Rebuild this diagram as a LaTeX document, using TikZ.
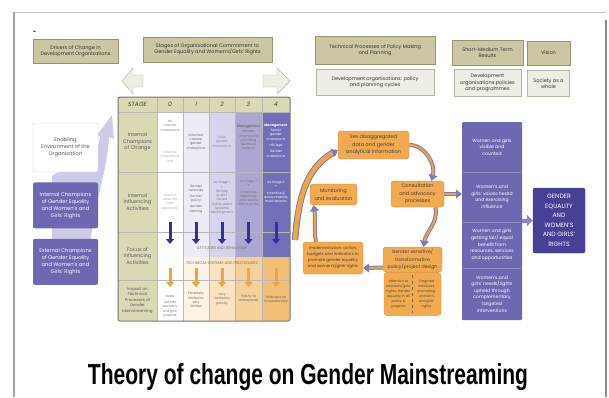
\documentclass[tikz,border=0pt]{standalone}
\usepackage{graphicx}
\usepackage{fontspec}
\setmainfont{Poppins}
\newfontfamily\titlefont{Liberation Sans}
\usetikzlibrary{arrows.meta,positioning}
\definecolor{khaki}{RGB}{203,199,163}
\definecolor{khakiedge}{RGB}{150,147,115}
\definecolor{paper}{RGB}{239,238,229}
\definecolor{stagecol}{RGB}{219,216,180}
\definecolor{lavA}{RGB}{236,236,247}
\definecolor{lavB}{RGB}{212,212,236}
\definecolor{lavC}{RGB}{170,168,211}
\definecolor{lavD}{RGB}{114,110,183}
\definecolor{purp}{RGB}{110,104,178}
\definecolor{darkpurp}{RGB}{72,64,148}
\definecolor{navy}{RGB}{52,50,150}
\definecolor{swoosh}{RGB}{204,204,232}
\definecolor{orA}{RGB}{253,242,228}
\definecolor{orB}{RGB}{250,227,194}
\definecolor{orC}{RGB}{246,208,154}
\definecolor{orD}{RGB}{243,190,118}
\definecolor{orbox}{RGB}{241,170,80}
\definecolor{oredge}{RGB}{214,140,52}
\definecolor{oarrow}{RGB}{239,166,64}
\tikzset{
  hdr/.style={rectangle, draw=khakiedge, fill=khaki, thin, align=center, font=\fontsize{5}{6.2}\selectfont, text=black!80, inner sep=1pt},
  hdrlight/.style={hdr, fill=paper, draw=khakiedge!70},
  leftbox/.style={rectangle, rounded corners=2pt, fill=purp, text=white, align=center, font=\fontsize{5.2}{7}\selectfont, minimum width=65pt, minimum height=46pt, inner sep=1pt},
  orbox/.style={rectangle, rounded corners=3pt, draw=oredge, fill=orbox, text=black!75, align=center, font=\fontsize{5}{7.5}\selectfont, inner sep=1pt},
  cell/.style={align=center, font=\fontsize{3.3}{4.3}\selectfont, text=black!60, inner sep=0pt},
  stagetxt/.style={align=center, font=\fontsize{5}{6.5}\selectfont, text=black!65, inner sep=0pt},
  outc/.style={align=center, text=white, font=\fontsize{4.6}{6.6}\selectfont, inner sep=0pt},
  gridline/.style={draw=black!28, thin},
  hollow/.style={draw=khakiedge!70, fill=paper, thin},
  tabarrow/.style={line width=3pt, -{Triangle[length=5pt,width=8pt]}},
  cyc/.style={draw=navy!65, double=oarrow, double distance=2pt, line width=1pt, -{Triangle[length=6pt,width=9pt,fill=navy!65]}}
}
\begin{document}
\begin{tikzpicture}[x=1pt,y=-1pt]
\useasboundingbox (0,0) rectangle (609,397);
\draw[black!22, line width=0.8pt] (14,12) -- (606,12);
\draw[black!35, line width=1.6pt] (14,12) -- (14,397);
\draw[black!45, line width=1.6pt] (606,20) -- (606,397);
\draw[red!75!black, line width=0.9pt] (33,31) -- (35.5,31.5);

% top row
\node[hdr, minimum width=85pt, minimum height=24pt] (drivers) at (75.5,51) {Drivers of Change in\\Development Organisations};
\node[hdr, minimum width=129pt, minimum height=25pt] (stages) at (207.5,49.5) {Stages of Organisational Commitment to\\Gender Equality and Women's/Girls' Rights};
\filldraw[hollow] (122,81) -- (133,68) -- (133,75) -- (143,75) -- (143,87) -- (133,87) -- (133,94) -- cycle;
\filldraw[hollow] (290,81) -- (277,68) -- (277,75) -- (263,75) -- (263,87) -- (277,87) -- (277,94) -- cycle;
\node[hdr, minimum width=120pt, minimum height=28pt] (techproc) at (375,50) {Technical Processes of Policy Making\\and Planning};
\node[hdrlight, minimum width=118pt, minimum height=26pt, below=5pt of techproc] (cycles) {Development organisations: policy\\and planning cycles};
\node[hdr, minimum width=71pt, minimum height=25pt] (results) at (487.5,52.5) {Short-Medium Term\\Results};
\node[hdrlight, minimum width=67pt, minimum height=27pt, below=4pt of results] (devpol) {Development\\organisations policies\\and programmes};
\node[hdr, minimum width=43pt, minimum height=24pt] (vision) at (548.5,53) {Vision};
\node[hdrlight, minimum width=42pt, minimum height=26pt, below=5pt of vision] (society) {Society as a\\whole};

% stage table
\fill[stagecol] (118,97) rectangle (290,112);
\fill[stagecol] (118,112) rectangle (157,321);
\foreach \xa/\xb/\c in {157/183/white,183/209/lavA,209/235/lavB,235/262/lavC,262/290/lavD}
  \fill[\c] (\xa,112) rectangle (\xb,257);
\foreach \xa/\xb/\c in {157/183/white,183/209/orA,209/235/orB,235/262/orC,262/290/orD}
  \fill[\c] (\xa,257) rectangle (\xb,321);
\foreach \y in {112,172,232,280} \draw[gridline] (118,\y) -- (290,\y);
\foreach \x in {157,183,209,235,262} \draw[gridline] (\x,97) -- (\x,321);
\draw[black!55, line width=1pt, rounded corners=2pt] (118,97) rectangle (290,321);
\foreach \x/\s in {137.5/STAGE,170/0,196/1,222/2,248.5/3,276/4}
  \node[font=\fontsize{6}{6}\selectfont\itshape, text=black!75, inner sep=0pt] at (\x,104.5) {\s};

\node[stagetxt] (champ) at (137.5,142) {Internal\\Champions\\of Change};
\node[stagetxt] (infl) at (137.5,202) {Internal\\Influencing\\Activities};
\node[stagetxt] (focus) at (137.5,256) {Focus of\\Influencing\\Activities};
\node[stagetxt, font=\fontsize{4}{5.6}\selectfont] (impact) at (137.5,300.5) {Impact on\\Technical\\Processes of\\Gender\\Mainstreaming};

\node[cell, text=black!50] at (170,126) {No\\internal\\champions};
\node[cell, text=black!32] at (170,157) {External\\champions\\only};
\node[cell] at (196,142) {Volunteer\\internal\\gender\\champions};
\node[cell, text=black!45] at (222,142) {Paid\\gender\\champions};
\node[cell, text=black!55] at (248.5,138) {\textbf{Management}\\[1pt]Gender\\champions\\providing\\technical\\support};
\node[cell, text=white] at (276,141) {\textbf{Management}\\[1pt]Senior\\gender\\champions\\[2pt]HR Dept\\[2pt]Gender\\champions};

\node[cell, text=black!32] at (170,202) {External\\networks\\and\\advocacy};
\node[cell] at (196,199) {Gender\\networks\\[1.5pt]Gender\\policy\\[1.5pt]Gender\\training};
\node[cell, text=black!50] at (222,198) {As Stage 1\\+\\Gender\\audit /\\review\\Action plans\\Systems\\development};
\node[cell, text=black!55] at (248.5,193) {As Stage 2\\+\\[2pt]Corporate\\objectives\\and results\\frameworks};
\node[cell, text=white] at (276,192) {As Stage 3\\+\\[2pt]Incentive \&\\accountability\\mechanisms};

\foreach \x in {170,196,222,248.5,276} {
  \draw[tabarrow, navy] (\x,222) -- (\x,244);
  \draw[tabarrow, oarrow] (\x,268) -- (\x,287);
}
\node[cell, font=\fontsize{3.8}{4}\selectfont, text=black!55] (attitudes) at (222,248) {ATTITUDES AND BEHAVIOUR};
\node[cell, font=\fontsize{3.8}{4}\selectfont, text=black!55] (techsys) at (222,263) {TECHNICAL SYSTEMS AND PROCEDURES};

\node[cell, text=black!55] at (170,306) {None\\[2pt]Aid has\\women's\\and girls'\\projects};
\node[cell] at (196,300) {Extremely\\limited to\\very\\limited};
\node[cell] at (222,299) {Very\\limited to\\patchy};
\node[cell] at (248.5,299) {Patchy to\\widespread};
\node[cell] at (276,299) {Widespread\\to substantive};

% drivers on the left
\fill[swoosh] (52,284) -- (52,176) .. controls (62,166) and (96,172) .. (100,136) -- (97,135) -- (112,115) -- (114,139) -- (109,137) .. controls (107,178) and (92,200) .. (86,284) -- cycle;
\node[rectangle, rounded corners=2pt, draw=black!22, fill=white, text=black!65, align=center, font=\fontsize{5.2}{7}\selectfont, minimum width=65pt, minimum height=49pt] (enabling) at (65.5,147.5) {Enabling\\Environment of the\\Organisation};
\node[leftbox, below=10pt of enabling] (intchamp) {Internal Champions\\of Gender Equality\\and Women's and\\Girls' Rights};
\node[leftbox, below=10pt of intchamp] (extchamp) {External Champions\\of Gender Equality\\and Women's and\\Girls' Rights};

% policy cycle
\node[orbox, minimum width=71pt, minimum height=28pt] (sexdata) at (373.5,145) {Sex disaggregated\\data and gender\\analytical information};
\node[orbox, minimum width=53pt, minimum height=26pt] (consult) at (417.5,194) {Consultation\\and advocacy\\processes};
\node[orbox, minimum width=47pt, minimum height=21pt] (monitor) at (333.5,194.5) {Monitoring\\and evaluation};
\node[orbox, minimum width=60pt, minimum height=32pt, font=\fontsize{4}{6}\selectfont] (implement) at (333,258) {Implementation: action,\\budgets and indicators to\\promote gender equality\\and women's/girls' rights};
\node[orbox, minimum width=59pt, minimum height=25pt, font=\fontsize{4.7}{7.5}\selectfont] (design) at (412.5,259.5) {Gender sensitive/\\transformative\\policy/project design};
\node[orbox, minimum width=57pt, minimum height=43pt, below=0pt of design] (designsub) {};
\draw[black!60, dashed, thin] ([yshift=-3pt]designsub.north) -- ([yshift=3pt]designsub.south);
\node[cell, font=\fontsize{3.4}{5}\selectfont, text=black!72] at ([xshift=-14pt]designsub.center) {Attention to\\women's/girls'\\rights. Gender\\equality in all\\policy \&\\projects};
\node[cell, font=\fontsize{3.4}{5}\selectfont, text=black!72] at ([xshift=14pt]designsub.center) {Targeted\\initiatives\\promoting\\women's\\and girls'\\rights};

\coordinate (tail) at (295,240);
\draw[cyc] (sexdata.east) to[out=0,in=75] ([xshift=14pt]consult.north);
\draw[cyc] ([xshift=18pt]consult.south) to[out=-80,in=80] ([xshift=11pt]design.north);
\draw[cyc] ([yshift=-8pt]design.west) to[out=180,in=0] ([yshift=-10pt]implement.east);
\draw[cyc] ([xshift=-17pt]implement.north) to[out=100,in=-80] ([xshift=-20pt]monitor.south);
\draw[cyc, double distance=4.5pt] (tail) to[out=85,in=210] ([yshift=-5pt]sexdata.west);

% results and vision
\node[rectangle, rounded corners=1pt, fill=purp, minimum width=60pt, minimum height=198pt] (outcomes) at (492,221) {};
\foreach \y in {172,222,268} \draw[purp!75!white, thin] (463,\y) -- (521,\y);
\node[outc] (visible) at (492,147) {Women and girls\\visible and\\counted};
\node[outc] (voices) at (492,197) {Women's and\\girls' voices heard\\and exercising\\influence};
\node[outc] (benefit) at (492,245) {Women and girls\\getting fair/ equal\\benefit from\\resources, services\\and opportunities};
\node[outc] (needs) at (492,294) {Women's and\\girls' needs/rights\\upheld through\\complementary\\targeted\\interventions};
\node[rectangle, rounded corners=2pt, fill=darkpurp, draw=darkpurp!80!black, minimum width=52pt, minimum height=65pt, align=center, text=white, font=\fontsize{6.2}{9.5}\selectfont, inner sep=0pt] (gender) at (559,220.5) {GENDER\\EQUALITY\\AND\\WOMEN'S\\AND GIRLS'\\RIGHTS};
\draw[cyc] (consult.east) -- (outcomes.west |- consult.east);
\draw[draw=purp!80, line width=4pt, -{Triangle[length=6pt,width=11pt]}] (outcomes.east |- gender.west) -- (gender.west);

\node[anchor=base, inner sep=0pt, font=\titlefont\bfseries] (title) at (308,384) {\resizebox{440pt}{21pt}{Theory of change on Gender Mainstreaming}};
\end{tikzpicture}
\end{document}
